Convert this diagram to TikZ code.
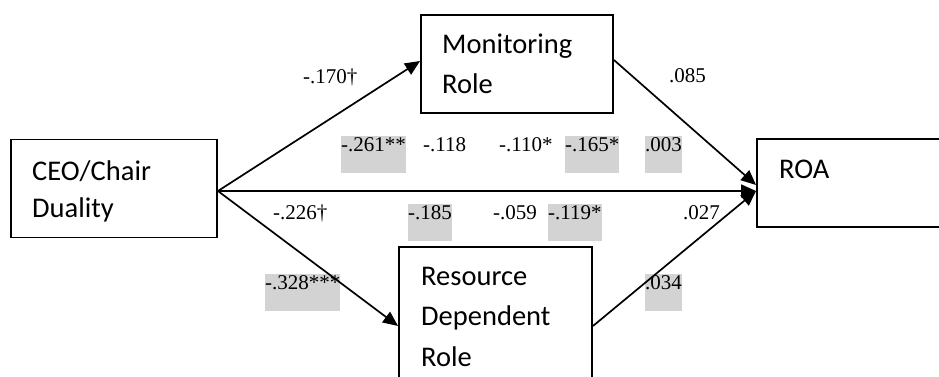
\documentclass[tikz,border=0pt]{standalone}
\usepackage{fontspec}
\setmainfont{Liberation Serif}
\newfontfamily\boxfont{Carlito}
\usetikzlibrary{arrows.meta}
\definecolor{hlgrey}{RGB}{211,211,211}
\begin{document}
\begin{tikzpicture}[x=1pt,y=-1pt,
  box/.style={draw, line width=1.9pt, inner sep=0pt, rectangle},
  boxtxt/.style={font=\boxfont\fontsize{28.5}{34}\selectfont, anchor=base west, inner sep=0pt},
  coef/.style={font=\fontsize{21}{25}\selectfont, anchor=north west, inner sep=0pt, text height=15pt, text depth=22pt},
  hl/.style={coef, fill=hlgrey},
  arr/.style={line width=1.7pt, -{Triangle[length=15pt,width=13pt]}}]
\useasboundingbox (0,0) rectangle (939,376);
\clip (0,0) rectangle (939,376);
% boxes
\node[box, minimum width=206pt, minimum height=98pt] (ceo) at (114,188.5) {};
\node[box, minimum width=192pt, minimum height=98pt] (mon) at (517,64) {};
\node[box, minimum width=240pt, minimum height=88pt] (roa) at (877,183) {};
\node[box, minimum width=193pt, minimum height=158pt] (res) at (495.5,326) {};
% box texts
\node[boxtxt] (ceo1) at (32,180) {CEO/Chair};
\node[boxtxt] (ceo2) at (32,217) {Duality};
\node[boxtxt] (mon1) at (442,53) {Monitoring};
\node[boxtxt] (mon2) at (442,93) {Role};
\node[boxtxt] (roa1) at (779,178) {ROA};
\node[boxtxt] (res1) at (421,285) {Resource};
\node[boxtxt] (res2) at (421,325) {Dependent};
\node[boxtxt] (res3) at (421,366) {Role};
% coefficients
\node[coef] (c1) at (303,68) {-.170†};
\node[coef] (c2) at (669,67) {.085};
\node[hl] (c3) at (341,136) {-.261**};
\node[coef] (c4) at (423,136) {-.118};
\node[coef] (c5) at (499,136) {-.110*};
\node[hl] (c6) at (565,136) {-.165*};
\node[hl] (c7) at (645,136) {.003};
\node[coef] (c8) at (273,204) {-.226†};
\node[hl] (c9) at (408,204) {-.185};
\node[coef] (c10) at (493,204) {-.059};
\node[hl] (c11) at (548,204) {-.119*};
\node[coef] (c12) at (683,204) {.027};
\node[hl] (c13) at (265,274) {-.328***};
\node[hl] (c14) at (645,274) {.034};
% connectors
\draw[arr] ([yshift=-2.5pt]ceo.east) -- ([yshift=3pt]mon.west);
\draw[arr] ([yshift=-2.5pt]ceo.east) -- (res.west);
\draw[arr] ([yshift=-2.5pt]ceo.east) -- ([yshift=-2.5pt]ceo.east -| roa.west);
\draw[arr] ([yshift=4pt]mon.east) -- ([yshift=-2pt]roa.west);
\draw[arr] (res.east) -- ([yshift=-8pt]roa.west);
\end{tikzpicture}
\end{document}
